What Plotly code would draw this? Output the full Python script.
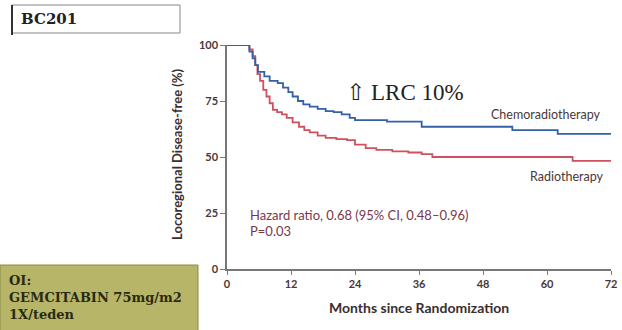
import plotly.graph_objects as go

# Kaplan-Meier step data (months, % locoregional disease-free)
chemo_months = [0, 3.5, 4.2, 4.8, 5.3, 5.8, 7.0, 8.0, 9.5, 10.5, 11.5, 12.3, 13.3, 14.3, 15.5, 17.0, 18.5, 20.0, 21.5, 23.0, 24.0, 30.0, 36.5, 53.5, 62.0, 72.0]
chemo_values = [100, 100, 97, 94, 91, 88, 86, 84, 83, 81, 79, 77, 75, 73.5, 72.5, 71.5, 70.5, 70, 69, 67.5, 66.5, 65.8, 63.5, 62, 60.3, 60.3]

radio_months = [0, 3.5, 4.2, 4.8, 5.3, 5.7, 6.2, 6.8, 7.4, 8.0, 8.6, 9.4, 10.3, 11.2, 12.3, 13.5, 14.5, 15.5, 17.0, 18.5, 20.5, 22.5, 24.0, 26.0, 28.0, 31.0, 34.0, 36.5, 38.5, 64.8, 72.0]
radio_values = [100, 100, 98, 95, 91, 87, 84, 80, 77, 74, 71, 70, 69, 67.5, 65.5, 63.5, 62, 61, 59.5, 58.5, 58, 57.5, 55.5, 54, 53.2, 52.5, 52, 51.3, 50, 48.3, 48.3]

x_ticks = [0, 12, 24, 36, 48, 60, 72]
y_ticks = [0, 25, 50, 75, 100]

fig = go.Figure()
fig.add_trace(go.Scatter(x=radio_months, y=radio_values, mode="lines",
                         line=dict(shape="hv", color="#d0505e", width=1.8),
                         name="Radiotherapy", cliponaxis=False))
fig.add_trace(go.Scatter(x=chemo_months, y=chemo_values, mode="lines",
                         line=dict(shape="hv", color="#3560a6", width=1.8),
                         name="Chemoradiotherapy", cliponaxis=False))

tick_font = dict(family="Lato, Open Sans, sans-serif", size=11, color="#4a3838", weight="bold")
fig.update_xaxes(range=[0, 72], tickvals=x_ticks, ticks="outside", ticklen=4,
                 tickcolor="#777", showline=True, linecolor="#777", linewidth=1.5,
                 showgrid=False, zeroline=False, tickfont=tick_font, automargin=False)
fig.update_yaxes(range=[0, 100], tickvals=y_ticks, ticks="outside", ticklen=5,
                 tickcolor="#777", showline=True, linecolor="#777", linewidth=1.5,
                 showgrid=False, zeroline=False, tickfont=tick_font, automargin=False)

def px(x):
    return (x - 227) / 384.0

def py(y):
    return (269 - y) / 224.0

def A(**kw):
    d = dict(showarrow=False, yanchor="middle")
    d.update(kw)
    return d

ann = []
ann.append(A(x=px(177), y=py(155), xref="paper", yref="paper", xanchor="center", text="<b>Locoregional Disease-free (%)</b>",
             textangle=-90, font=dict(family="Lato, sans-serif", size=13, color="#3a2e2e")))
ann.append(A(x=px(419), y=py(307), xref="paper", yref="paper", xanchor="center", text="<b>Months since Randomization</b>",
             font=dict(family="Lato, sans-serif", size=14, color="#3a2e2e")))
ann.append(A(x=22.0, y=79, xref="x", yref="y", text="⇧ LRC 10%", xanchor="left",
             font=dict(family="Liberation Serif, DejaVu Serif, serif", size=23, color="#222")))
ann.append(A(x=59.8, y=68.8, xref="x", yref="y", xanchor="center", text="Chemoradiotherapy",
             font=dict(family="Lato, sans-serif", size=12.5, color="#4a3838")))
ann.append(A(x=63.6, y=41.5, xref="x", yref="y", xanchor="center", text="Radiotherapy",
             font=dict(family="Lato, sans-serif", size=12.5, color="#4a3838")))
ann.append(A(x=3.9, y=24.1, xref="x", yref="y", text="Hazard ratio, 0.68 (95% CI, 0.48–0.96)", xanchor="left",
             font=dict(family="Lato, sans-serif", size=13, color="#7a3848")))
ann.append(A(x=3.9, y=17, xref="x", yref="y", text="P=0.03", xanchor="left",
             font=dict(family="Lato, sans-serif", size=13, color="#7a3848")))
ann.append(A(x=px(19), y=py(19), xref="paper", yref="paper", text="<b>BC201</b>", xanchor="left",
             font=dict(family="DejaVu Serif, serif", size=15, color="#222")))
ann.append(A(x=px(7), y=py(297), xref="paper", yref="paper", xanchor="left", align="left",
             text="<b>OI:<br>GEMCITABIN 75mg/m2<br>1X/teden</b>",
             font=dict(family="DejaVu Serif, serif", size=13, color="#2a2a12")))

shapes = [
    dict(type="rect", xref="paper", yref="paper", x0=px(12), x1=px(180), y0=py(33), y1=py(5),
         line=dict(color="#888", width=1), fillcolor="white", layer="below"),
    dict(type="line", xref="paper", yref="paper", x0=px(12), x1=px(12), y0=py(35), y1=py(5),
         line=dict(color="#333", width=2)),
    dict(type="rect", xref="paper", yref="paper", x0=px(0), x1=px(198), y0=py(331), y1=py(265),
         line=dict(color="#8c8c4a", width=1), fillcolor="#b6b568", layer="below"),
]

fig.update_layout(width=622, height=330, margin=dict(l=227, r=11, t=45, b=61),
                  plot_bgcolor="white", paper_bgcolor="white", showlegend=False,
                  annotations=ann, shapes=shapes)
fig.write_html("out.html", config={"displayModeBar": False},
               post_script="document.body.style.margin='0';document.body.style.padding='0';")
